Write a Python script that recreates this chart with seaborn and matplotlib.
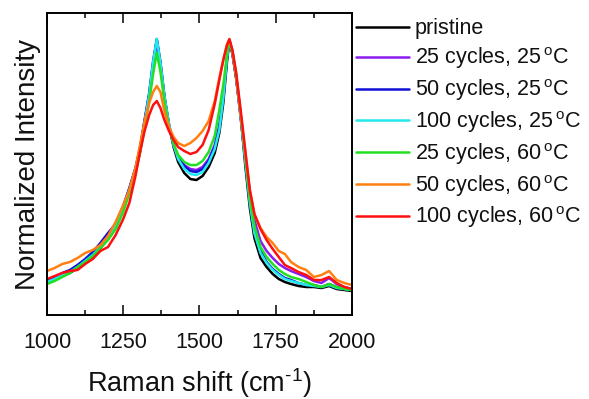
import matplotlib
matplotlib.use("Agg")
import matplotlib.pyplot as plt
import seaborn as sns
import pandas as pd

# Raman shift grid (cm^-1)
shift = [1000, 1025, 1050, 1075, 1100, 1125, 1150, 1175, 1200, 1225, 1250,
         1270, 1290, 1305, 1320, 1335, 1348, 1360, 1372, 1385, 1400, 1415, 1430,
         1450, 1470, 1490, 1510, 1530, 1550,
         1565, 1578, 1590, 1598, 1608, 1620, 1635, 1650, 1665, 1680,
         1700, 1720, 1740, 1760, 1780, 1800,
         1825, 1850, 1875, 1900, 1925, 1950, 1975, 2000]

# Spectra (intensity, a.u.), D band ~1360 and G band ~1598
pristine = [17, 20, 24, 27, 32, 38, 44, 52, 61, 72, 90,
            109, 128, 148, 178, 203, 235, 260, 235, 202, 175, 153, 138,
            127, 121, 120, 124, 133, 147,
            167, 197, 238, 259, 246, 222, 185, 135, 92, 62,
            42, 33, 26, 21, 18, 16,
            14, 13, 13, 12, 14, 11, 10, 9]
c25_t25 = [19, 22, 26, 29, 34, 40, 46, 55, 64, 75, 93,
           111, 131, 151, 179, 205, 237, 258, 236, 203, 175, 155, 143,
           135, 131, 130, 133, 141, 155,
           175, 204, 243, 260, 248, 224, 184, 145, 108, 80,
           59, 49, 42, 36, 32, 29,
           26, 23, 19, 17, 22, 16, 13, 11]
c50_t25 = [20, 23, 27, 30, 35, 41, 48, 57, 67, 76, 94,
           112, 132, 152, 180, 207, 239, 261, 238, 204, 175, 155, 143,
           134, 129, 128, 131, 139, 153,
           172, 202, 241, 260, 247, 223, 182, 140, 98, 70,
           50, 38, 31, 26, 22, 20,
           17, 15, 15, 13, 16, 13, 11, 10]
c100_t25 = [18, 21, 25, 28, 33, 39, 45, 53, 62, 74, 92,
            110, 130, 150, 178, 205, 238, 261, 237, 204, 176, 155, 141,
            131, 126, 125, 128, 137, 151,
            170, 202, 242, 260, 248, 225, 184, 140, 97, 67,
            47, 37, 30, 25, 21, 19,
            17, 15, 14, 13, 15, 12, 11, 10]
c25_t60 = [16, 19, 23, 27, 33, 38, 44, 52, 60, 71, 88,
           107, 127, 147, 172, 198, 226, 247, 228, 199, 173, 156, 145,
           138, 135, 135, 139, 148, 164,
           190, 215, 245, 260, 249, 226, 185, 143, 102, 74,
           53, 43, 36, 30, 26, 23,
           21, 18, 15, 13, 16, 13, 11, 10]
c50_t60 = [29, 32, 36, 38, 42, 47, 50, 55, 64, 78, 95,
           110, 132, 155, 178, 197, 208, 214, 208, 189, 173, 163, 157,
           154, 157, 162, 169, 179, 199,
           222, 240, 255, 260, 248, 224, 186, 148, 110, 86,
           72, 63, 57, 49, 46, 38,
           33, 30, 23, 25, 29, 20, 17, 15]
c100_t60 = [21, 24, 27, 29, 30, 36, 41, 49, 53, 65, 81,
            97, 124, 148, 169, 185, 195, 199, 192, 180, 169, 160, 153,
            149, 146, 148, 155, 170, 196,
            220, 240, 255, 261, 250, 228, 190, 150, 110, 86,
            71, 60, 51, 43, 35, 32,
            28, 25, 20, 20, 23, 17, 13, 11]

labels = ["pristine",
          r"25 cycles, 25$\,^\mathrm{o}$C",
          r"50 cycles, 25$\,^\mathrm{o}$C",
          r"100 cycles, 25$\,^\mathrm{o}$C",
          r"25 cycles, 60$\,^\mathrm{o}$C",
          r"50 cycles, 60$\,^\mathrm{o}$C",
          r"100 cycles, 60$\,^\mathrm{o}$C"]
spectra = [pristine, c25_t25, c50_t25, c100_t25, c25_t60, c50_t60, c100_t60]
colors = ["#000000", "#8A1CF0", "#1010D8", "#22E8F0", "#22E022", "#FF8010", "#FF1010"]

x_ticks = [1000, 1250, 1500, 1750, 2000]

sns.set_theme(style="white")
plt.rcParams["font.family"] = ["Liberation Sans", "DejaVu Sans"]
plt.rcParams["mathtext.fontset"] = "custom"
plt.rcParams["mathtext.rm"] = "Liberation Sans"
plt.rcParams["mathtext.it"] = "Liberation Sans:italic"
plt.rcParams["text.color"] = "#111111"
plt.rcParams["axes.labelcolor"] = "#111111"
plt.rcParams["xtick.color"] = "black"
plt.rcParams["xtick.labelcolor"] = "#111111"

fig = plt.figure(figsize=(5.89, 3.99), dpi=100)
ax = fig.add_axes([0.0798, 0.2105, 0.5178, 0.7569])

for lab, y, col in zip(labels, spectra, colors):
    df = pd.DataFrame({"shift": shift, "intensity": y})
    sns.lineplot(data=df, x="shift", y="intensity", color=col, lw=1.8,
                 label=lab, ax=ax, sort=False)

ax.set_xlim(1000, 2000)
ax.set_ylim(-15, 287)
ax.set_xticks(x_ticks)
ax.set_xticks([1125, 1375, 1625, 1875], minor=True)
ax.set_yticks([])
ax.tick_params(axis="x", which="major", direction="in", length=7.5, width=1.1,
               top=True, bottom=True, labelsize=15.5, pad=12)
ax.tick_params(axis="x", which="minor", direction="in", length=3.8, width=1.1,
               top=True, bottom=True)
for sp in ax.spines.values():
    sp.set_linewidth(1.4)
    sp.set_color("black")

ax.set_xlabel(r"Raman shift (cm$^{\text{-}1}$)", fontsize=19.5, labelpad=10)
ax.set_ylabel("Normalized Intensity", fontsize=20, labelpad=4)

ax.legend(loc="upper left", bbox_to_anchor=(0.995, 1.0), frameon=False,
          fontsize=15.5, handlelength=2.45, handletextpad=0.28,
          labelspacing=0.28, borderaxespad=0.0, borderpad=0.25)

fig.savefig("out.png", dpi=100)
